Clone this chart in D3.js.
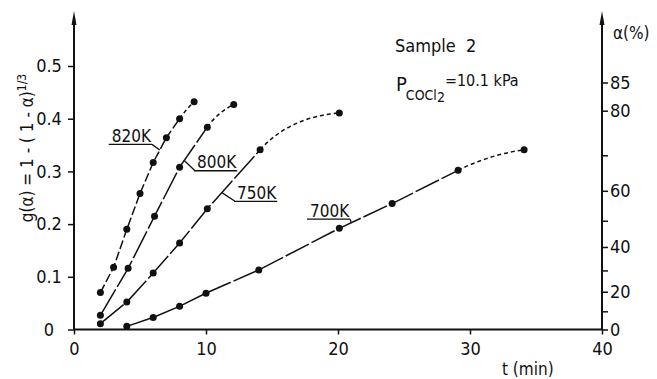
<!DOCTYPE html>
<html>
<head>
<meta charset="utf-8">
<script src="https://cdn.jsdelivr.net/npm/d3@7"></script>
<style>
body { margin: 0; background: #fff; }
svg text { font-family: "DejaVu Sans Condensed", "Liberation Sans Narrow", sans-serif; fill: #111; }
</style>
</head>
<body>
<div id="chart"></div>
<script>
// values: t (min) and g(alpha)
var t820 = [2, 3, 4, 5, 6, 7, 8, 9.1];
var g820 = [0.070, 0.118, 0.190, 0.258, 0.317, 0.364, 0.400, 0.432];
var t800 = [2, 4.1, 6.1, 8, 10.1, 12.1];
var g800 = [0.027, 0.116, 0.215, 0.308, 0.384, 0.427];
var t750 = [2, 4, 6, 8, 10.1, 14.1, 20.1];
var g750 = [0.011, 0.052, 0.107, 0.164, 0.229, 0.341, 0.411];
var t700 = [4, 6, 8, 10, 14, 20.1, 24.1, 29.1, 34.1];
var g700 = [0.006, 0.023, 0.044, 0.069, 0.113, 0.192, 0.239, 0.302, 0.341];

var seriesNames = ["820K", "800K", "750K", "700K"];
var seriesDash = ["9,3", "30,3", "30,3", "26,3"];

// label placement (data units): text start, and where the leader meets the curve
var labelT = [2.86, 9.32, 12.35, 17.88];
var labelG = [0.356, 0.306, 0.248, 0.214];
var leaderT = [6.5, 8.35, 11.2, 21.0];
var leaderSide = ["right", "left", "left", "right"];

var xTicks = [0, 10, 20, 30, 40];
var yTicks = [0, 0.1, 0.2, 0.3, 0.4, 0.5];
var alphaTicks = [0, 10, 20, 30, 40, 50, 60, 70, 80, 85];
var alphaLabels = [0, 20, 40, 60, 80, 85];

var width = 657;
var height = 379;

var xscale = d3.scaleLinear().domain([0, 40]).range([74, 602]);
var yscale = d3.scaleLinear().domain([0, 0.5]).range([329.5, 66]);

function galpha(a) { return 1 - Math.pow(1 - a / 100, 1 / 3); }
function alphaOf(g) { return Math.round(100 * (1 - Math.pow(1 - g, 3))); }

var series = [
    {name: seriesNames[0], t: t820, g: g820},
    {name: seriesNames[1], t: t800, g: g800},
    {name: seriesNames[2], t: t750, g: g750},
    {name: seriesNames[3], t: t700, g: g700}
];
series.forEach(function(s, i) {
    s.pts = s.t.map(function(t, j) { return [t, s.g[j]]; });
    s.dash = seriesDash[i];
});

var svg = d3.select("#chart").append("svg").attr("width", width).attr("height", height);

// axes
var yaxis = d3.axisLeft(yscale).tickValues(yTicks).tickSize(6).tickSizeOuter(0)
    .tickFormat(function(d) { return d === 0 ? "0" : d3.format(".1f")(d); });
var gy = svg.append("g").attr("transform", "translate(" + xscale(0) + ",0)").call(yaxis);
gy.select(".domain").remove();
gy.selectAll("text").attr("text-anchor", "middle").attr("x", -25).style("font-size", "18px");

var ralpha = d3.axisRight(yscale).tickValues(alphaTicks.map(galpha)).tickSize(6).tickPadding(2)
    .tickFormat(function(g) {
        var a = alphaOf(g);
        return alphaLabels.indexOf(a) >= 0 ? a : "";
    });
var gr = svg.append("g").attr("transform", "translate(" + xscale(40) + ",0)").call(ralpha);
gr.select(".domain").remove();
gr.selectAll("text").style("font-size", "18px");

var xaxis = d3.axisBottom(xscale).tickValues(xTicks).tickSize(5).tickPadding(8).tickSizeOuter(0);
var gx = svg.append("g").attr("transform", "translate(0," + yscale(0) + ")").call(xaxis);
gx.select(".domain").remove();
gx.selectAll("text").style("font-size", "18px");

svg.selectAll(".tick line").attr("stroke", "#111").attr("stroke-width", 1.5);

// axis lines with arrows on the verticals
svg.append("line").attr("x1", xscale(0)).attr("x2", xscale(40))
    .attr("y1", yscale(0)).attr("y2", yscale(0)).attr("stroke", "#111").attr("stroke-width", 2);
[xscale(0), xscale(40)].forEach(function(x) {
    svg.append("line").attr("x1", x).attr("x2", x).attr("y1", yscale(0)).attr("y2", 20)
        .attr("stroke", "#111").attr("stroke-width", 2);
    svg.append("path").attr("d", "M" + x + ",11L" + (x - 2.5) + ",25L" + (x + 2.5) + ",25Z").attr("fill", "#111");
});

// curves: straight part, then a dotted bend to the last point
var line = d3.line().x(function(d) { return xscale(d[0]); }).y(function(d) { return yscale(d[1]); });

series.forEach(function(s) {
    var n = s.pts.length;
    svg.append("path").attr("d", line(s.pts.slice(0, n - 1)))
        .attr("fill", "none").attr("stroke", "#111").attr("stroke-width", 1.5)
        .attr("stroke-dasharray", s.dash);

    var p0 = [xscale(s.pts[n - 3][0]), yscale(s.pts[n - 3][1])];
    var p1 = [xscale(s.pts[n - 2][0]), yscale(s.pts[n - 2][1])];
    var p2 = [xscale(s.pts[n - 1][0]), yscale(s.pts[n - 1][1])];
    var dx = p1[0] - p0[0], dy = p1[1] - p0[1];
    var len = Math.sqrt(dx * dx + dy * dy);
    var seg = Math.sqrt(Math.pow(p2[0] - p1[0], 2) + Math.pow(p2[1] - p1[1], 2));
    var c = [p1[0] + dx / len * seg * 0.5, p1[1] + dy / len * seg * 0.5];
    var path = d3.path();
    path.moveTo(p1[0], p1[1]);
    path.quadraticCurveTo(c[0], c[1], p2[0], p2[1]);
    svg.append("path").attr("d", path.toString())
        .attr("fill", "none").attr("stroke", "#111").attr("stroke-width", 1.5)
        .attr("stroke-dasharray", "4,3");

    svg.selectAll(null).data(s.pts).enter().append("circle")
        .attr("cx", function(d) { return xscale(d[0]); })
        .attr("cy", function(d) { return yscale(d[1]); })
        .attr("r", 3.5).attr("fill", "#111");
});

// temperature labels with underline and leader
function gAt(s, t) {
    for (var j = 0; j < s.pts.length - 1; j++) {
        var a = s.pts[j], b = s.pts[j + 1];
        if (t >= a[0] && t <= b[0]) return a[1] + (b[1] - a[1]) * (t - a[0]) / (b[0] - a[0]);
    }
    return s.pts[s.pts.length - 1][1];
}

series.forEach(function(s, i) {
    var x = xscale(labelT[i]), y = yscale(labelG[i]);
    var txt = svg.append("text").attr("x", x).attr("y", y).style("font-size", "17px").text(s.name);
    var w = txt.node().getComputedTextLength();
    var uy = y + 2.5;
    var tx = xscale(leaderT[i]), ty = yscale(gAt(s, leaderT[i]));
    var ux = leaderSide[i] === "right" ? x + w + 1 : x - 2;
    svg.append("path")
        .attr("d", "M" + (x - 3) + "," + uy + "L" + (x + w + 1) + "," + uy + "M" + ux + "," + uy + "L" + tx + "," + ty)
        .attr("fill", "none").attr("stroke", "#111").attr("stroke-width", 1.3);
});

// texts
svg.append("text").attr("x", 395).attr("y", 52).style("font-size", "18px").text("Sample\u00a0\u00a02");
var pt = svg.append("text").attr("x", 396).attr("y", 91).style("font-size", "20px");
pt.append("tspan").text("P");
pt.append("tspan").attr("dy", 9).attr("dx", -1).style("font-size", "14px").text("COCl");
pt.append("tspan").attr("dy", 2).style("font-size", "14px").text("2");
pt.append("tspan").attr("dy", -16).style("font-size", "16px").text("=10.1 kPa");

svg.append("text").attr("x", 613).attr("y", 39).style("font-size", "17px").text("\u03b1(%)");
svg.append("text").attr("x", 502).attr("y", 375).style("font-size", "17px").text("t (min)");

var yl = svg.append("text").attr("transform", "translate(33,148) rotate(-90)")
    .attr("text-anchor", "middle").style("font-size", "17px");
yl.append("tspan").text("g(\u03b1) = 1 - ( 1 - \u03b1)");
yl.append("tspan").attr("dy", -7).style("font-size", "12px").text("1/3");
</script>
</body>
</html>
